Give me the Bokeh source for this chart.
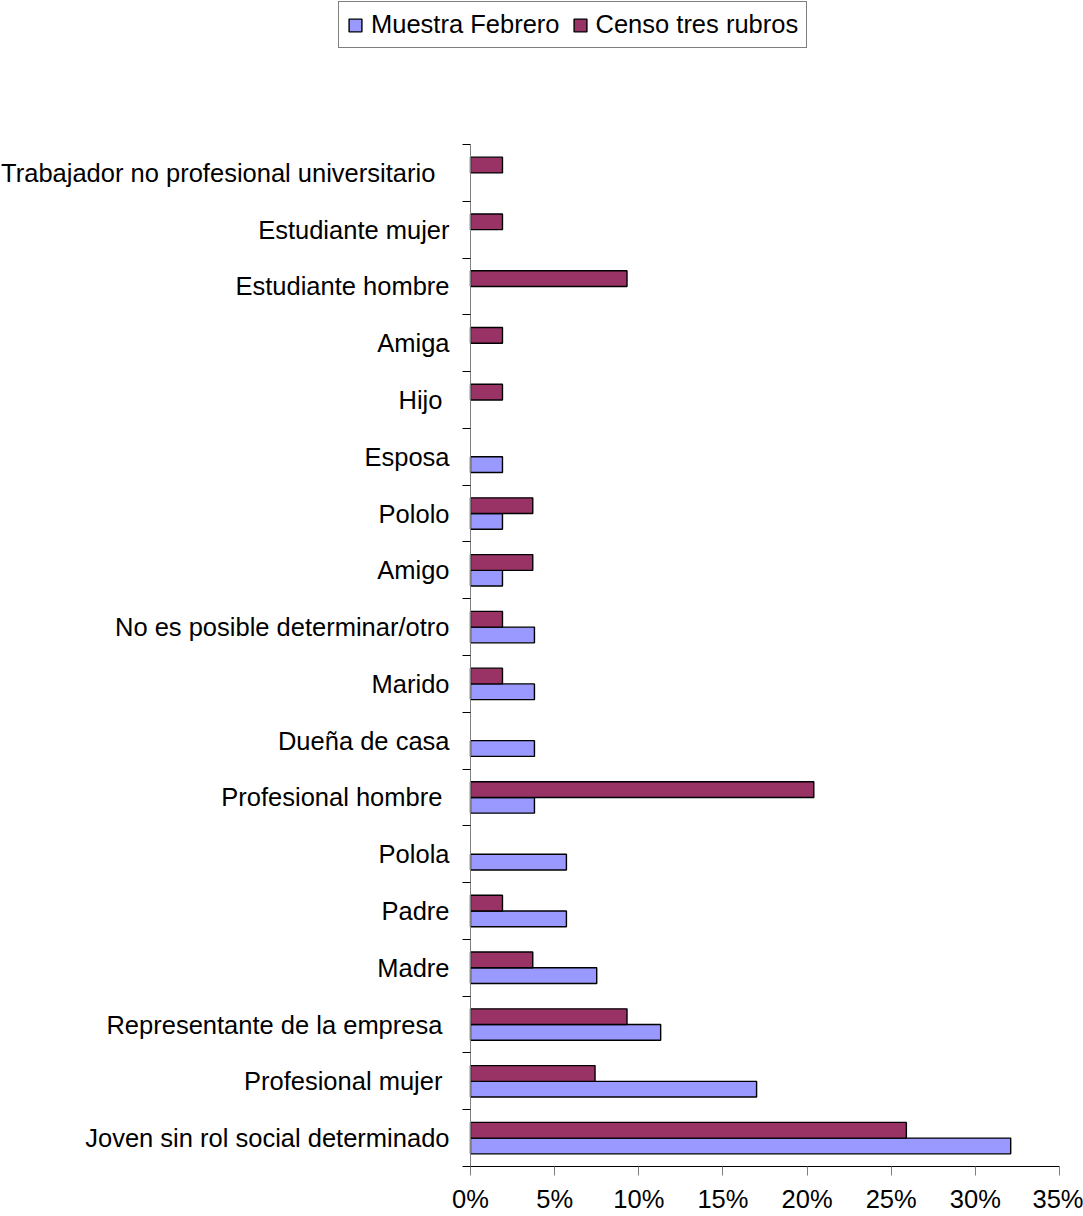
from bokeh.plotting import figure
from bokeh.models import (ColumnDataSource, Range1d, FixedTicker, NumeralTickFormatter,
                          Legend, LegendItem)
from bokeh.transform import dodge
from bokeh.embed import file_html
from bokeh.resources import INLINE

# ---- data (bottom to top) ----
categories = [
    "Joven sin rol social determinado",
    "Profesional mujer\u00a0",
    "Representante de la empresa\u00a0",
    "Madre",
    "Padre",
    "Polola",
    "Profesional hombre\u00a0",
    "Dueña de casa",
    "Marido",
    "No es posible determinar/otro",
    "Amigo",
    "Pololo",
    "Esposa",
    "Hijo\u00a0",
    "Amiga",
    "Estudiante hombre",
    "Estudiante mujer",
    "Trabajador no profesional universitario\u00a0\u00a0",
]
muestra_febrero = [0.321, 0.170, 0.113, 0.075, 0.057, 0.057, 0.038, 0.038, 0.038, 0.038,
                   0.019, 0.019, 0.019, 0.0, 0.0, 0.0, 0.0, 0.0]
censo_tres_rubros = [0.259, 0.074, 0.093, 0.037, 0.019, 0.0, 0.204, 0.0, 0.019, 0.019,
                     0.037, 0.037, 0.0, 0.019, 0.019, 0.093, 0.019, 0.019]
x_ticks = [0, 0.05, 0.10, 0.15, 0.20, 0.25, 0.30, 0.35]

FONT = "Liberation Sans"
FS = "25.5px"
C_MUESTRA = "#9999FF"
C_CENSO = "#993366"

W, H = 1083, 1216
# pixel geometry of the plotting area inside the canvas
PX_L, PX_R, PX_T, PX_B = 470, 1059, 144, 1166

idx = list(range(len(categories)))
n = len(categories)
x_lo, x_hi = x_ticks[0], x_ticks[-1]
y_lo, y_hi = -0.5, n - 0.5
xs = (PX_R - PX_L) / (x_hi - x_lo)
ys = (PX_B - PX_T) / (y_hi - y_lo)

def src(vals):
    keep = [i for i, v in enumerate(vals) if v > 0]
    return ColumnDataSource(dict(y=[idx[i] for i in keep], v=[vals[i] for i in keep]))

p = figure(width=W, height=H, output_backend="svg", toolbar_location=None,
           x_range=Range1d(x_lo - PX_L / xs, x_hi + (W - PX_R) / xs),
           y_range=Range1d(y_lo - (H - PX_B) / ys, y_hi + PX_T / ys),
           min_border=0, min_border_left=0, min_border_right=0,
           min_border_top=0, min_border_bottom=0)
p.outline_line_color = None
p.grid.visible = False
p.background_fill_color = "white"
p.border_fill_color = "white"

bh = 0.277
r_m = p.hbar(y=dodge("y", -bh / 2), left=0, right="v", height=bh, source=src(muestra_febrero),
             fill_color=C_MUESTRA, line_color="black", line_width=1.4)
r_c = p.hbar(y=dodge("y", bh / 2), left=0, right="v", height=bh, source=src(censo_tres_rubros),
             fill_color=C_CENSO, line_color="black", line_width=1.4)

# x axis
xa = p.xaxis[0]
xa.fixed_location = y_lo
xa.bounds = (x_lo, x_hi)
xa.ticker = FixedTicker(ticks=x_ticks)
xa.formatter = NumeralTickFormatter(format="0%")
xa.axis_line_color = "black"
xa.major_tick_line_color = "#808080"
xa.major_tick_out = 9
xa.major_tick_in = 0
xa.minor_tick_line_color = None
xa.major_label_text_font = FONT
xa.major_label_text_font_size = FS
xa.major_label_text_color = "black"
xa.major_label_standoff = 9

# y axis: labels at category centres, tick marks at category boundaries
ya = p.yaxis[0]
ya.fixed_location = x_lo
ya.bounds = (y_lo, y_hi)
ya.ticker = FixedTicker(ticks=idx, minor_ticks=[i - 0.5 for i in range(n + 1)])
ya.major_label_overrides = {i: c for i, c in zip(idx, categories)}
ya.axis_line_color = "#808080"
ya.major_tick_line_color = None
ya.major_tick_out = 0
ya.major_tick_in = 0
ya.minor_tick_line_color = "black"
ya.minor_tick_out = 8
ya.minor_tick_in = 0
ya.major_label_text_font = FONT
ya.major_label_text_font_size = FS
ya.major_label_text_color = "black"
ya.major_label_standoff = 13

legend = Legend(items=[LegendItem(label="Muestra Febrero", renderers=[r_m]),
                       LegendItem(label="Censo tres rubros", renderers=[r_c])],
                orientation="horizontal", location=(338, H - 48),
                label_text_font=FONT, label_text_font_size=FS, label_text_color="black",
                glyph_width=16, glyph_height=16, label_standoff=8, spacing=12,
                padding=8, margin=0, border_line_color="black", border_line_width=1,
                background_fill_color="white", background_fill_alpha=1)
p.add_layout(legend, "center")

open("out.html", "w").write(file_html(p, INLINE))
